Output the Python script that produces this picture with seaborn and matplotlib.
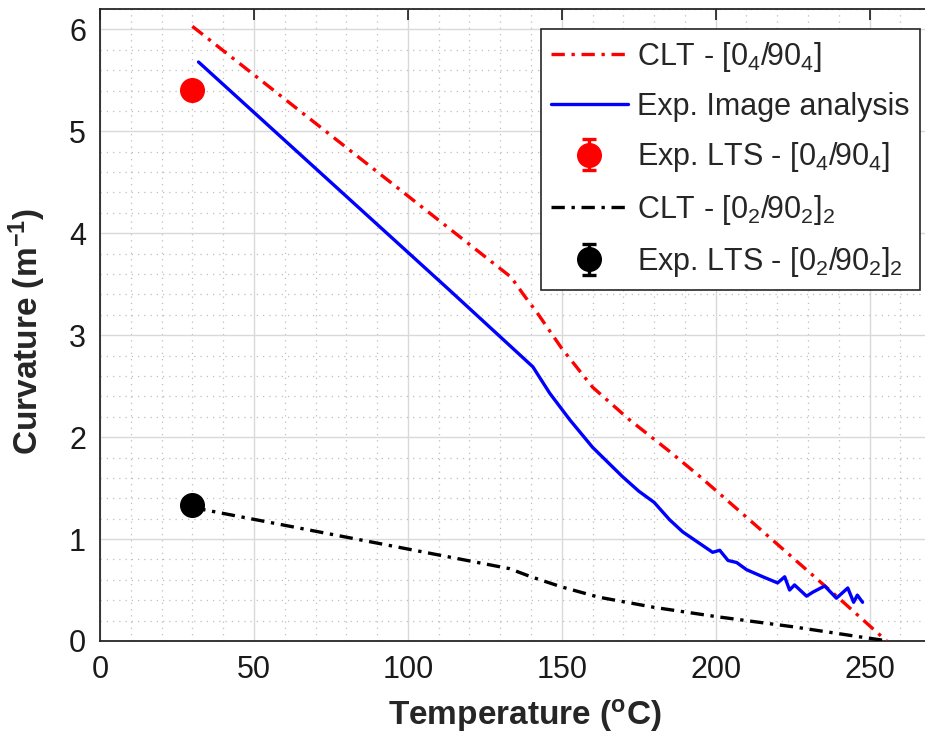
import numpy as np
import pandas as pd
import matplotlib
matplotlib.use("Agg")
import matplotlib.pyplot as plt
import seaborn as sns
from matplotlib.ticker import MultipleLocator

# ---- data ----
clt04_T = [30, 133.5, 138, 142, 150, 160, 172, 185, 195, 220, 240, 255.5]
clt04_k = [6.03, 3.57, 3.38, 3.22, 2.87, 2.49, 2.17, 1.86, 1.61, 0.95, 0.42, 0.0]

exp_T = [32, 113.6, 140.6, 146.1, 152.6, 160, 169.8, 175, 180, 185, 189.3, 199, 201.3,
         204, 206.8, 210, 215.3, 220.1, 222.4, 224, 225.6, 229.5, 231.6, 235.4, 239.2,
         242.9, 244.8, 246, 247.7]
exp_k = [5.68, 3.44, 2.69, 2.43, 2.17, 1.90, 1.61, 1.47, 1.36, 1.19, 1.07, 0.87, 0.89,
         0.79, 0.77, 0.70, 0.63, 0.57, 0.63, 0.50, 0.55, 0.44, 0.48, 0.54, 0.42,
         0.52, 0.38, 0.45, 0.38]

clt0202_T = [30, 133, 140, 150, 162, 180, 200, 225, 247, 256]
clt0202_k = [1.31, 0.71, 0.63, 0.53, 0.43, 0.33, 0.24, 0.14, 0.04, 0.0]

lts04_T, lts04_k, lts04_err = [30], [5.41], [0.05]
lts0202_T, lts0202_k, lts0202_err = [30], [1.33], [0.05]

xticks = [0, 50, 100, 150, 200, 250]
yticks = [0, 1, 2, 3, 4, 5, 6]

# ---- style ----
sns.set_style("white")
plt.rcParams["font.family"] = ["Liberation Sans", "DejaVu Sans"]
plt.rcParams["mathtext.fontset"] = "custom"
plt.rcParams["mathtext.rm"] = "Liberation Sans"
plt.rcParams["mathtext.it"] = "Liberation Sans"
plt.rcParams["mathtext.bf"] = "Liberation Sans:bold"

fig = plt.figure(figsize=(9.25, 7.53), dpi=100)
# x scale ~3.08 px per unit; the axes run past the right edge of the figure
ax = fig.add_axes([100 / 925, 112 / 753, 862 / 925, 632 / 753])

dd = (4, 2, 1, 2)
df1 = pd.DataFrame({"T": clt04_T, "k": clt04_k})
df2 = pd.DataFrame({"T": exp_T, "k": exp_k})
df3 = pd.DataFrame({"T": clt0202_T, "k": clt0202_k})

sns.lineplot(data=df1, x="T", y="k", ax=ax, color="#ff0000", lw=2.4,
             label="CLT - [0$_4$/90$_4$]", sort=False, zorder=3)
ax.lines[-1].set_dashes(dd)
sns.lineplot(data=df2, x="T", y="k", ax=ax, color="#0000ff", lw=2.4,
             label="Exp. Image analysis", sort=False, zorder=3)
ax.errorbar(lts04_T, lts04_k, yerr=lts04_err, fmt="o", color="#ff0000",
            ms=17, capsize=5, elinewidth=2.4, capthick=2.4,
            label="Exp. LTS - [0$_4$/90$_4$]", zorder=4)
sns.lineplot(data=df3, x="T", y="k", ax=ax, color="black", lw=2.4,
             label="CLT - [0$_2$/90$_2$]$_2$", sort=False, zorder=3)
ax.lines[-1].set_dashes(dd)
ax.errorbar(lts0202_T, lts0202_k, yerr=lts0202_err, fmt="o", color="black",
            ms=17, capsize=5, elinewidth=2.4, capthick=2.4,
            label="Exp. LTS - [0$_2$/90$_2$]$_2$", zorder=4)

ax.set_xlim(0, 280)
ax.set_ylim(0, 6.2)
ax.set_xticks(xticks)
ax.set_yticks(yticks)
ax.xaxis.set_minor_locator(MultipleLocator(10))
ax.yaxis.set_minor_locator(MultipleLocator(0.2))
ax.grid(True, which="major", color="#d9d9d9", lw=1.0, ls="-")
ax.grid(True, which="minor", color="#bfbfbf", lw=0.9, ls=(0, (1, 4)))
ax.set_axisbelow(True)
ax.tick_params(which="major", direction="in", length=8, width=1.2, top=True, right=True,
               labelsize=22, colors="#1a1a1a", pad=10)
ax.tick_params(which="minor", length=0)
for s in ax.spines.values():
    s.set_color("#262626")
    s.set_linewidth(1.3)

ax.set_xlabel("Temperature ($\\mathregular{^o}$C)", fontsize=24, fontweight="bold")
ax.xaxis.set_label_coords((525 - 100) / 862, -0.088)
ax.set_ylabel("Curvature (m$\\mathregular{^{-1}}$)", fontsize=24, fontweight="bold")
ax.yaxis.set_label_coords(-52 / 862, (641 - 332) / 632)

h, l = ax.get_legend_handles_labels()
order = ["CLT - [0$_4$/90$_4$]", "Exp. Image analysis", "Exp. LTS - [0$_4$/90$_4$]",
         "CLT - [0$_2$/90$_2$]$_2$", "Exp. LTS - [0$_2$/90$_2$]$_2$"]
hd = dict(zip(l, h))
leg = ax.legend([hd[k] for k in order], order, loc="upper right",
                bbox_to_anchor=(920 / 925, 1 - 29 / 753), bbox_transform=fig.transFigure,
                fontsize=22, frameon=True, fancybox=False, framealpha=1, edgecolor="#262626",
                handlelength=2.5, handletextpad=0.3, borderpad=0.35, labelspacing=0.6,
                borderaxespad=0)
leg.get_frame().set_linewidth(1.2)

fig.savefig("out.png", dpi=100)
